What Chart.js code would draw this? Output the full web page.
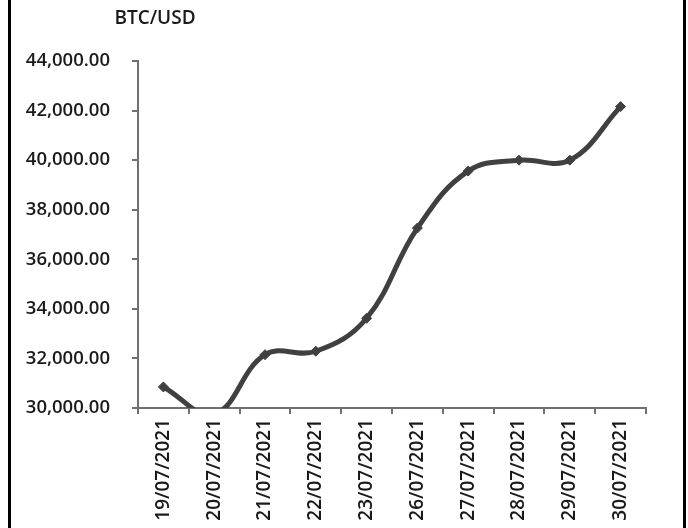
<!DOCTYPE html>
<html lang="en">
<head>
  <meta charset="UTF-8" />
  <title>BTC/USD</title>
  <script src="https://cdn.jsdelivr.net/npm/chart.js"></script>
  <style>
    body { margin: 0; background: #fff; }
    canvas { display: block; }
  </style>
</head>
<body>
  <canvas id="btcChart" width="688" height="528"></canvas>

  <script>
    const dates = ['19/07/2021', '20/07/2021', '21/07/2021', '22/07/2021', '23/07/2021',
                   '26/07/2021', '27/07/2021', '28/07/2021', '29/07/2021', '30/07/2021'];
    const prices = [30850, 29750, 32150, 32290, 33620, 37260, 39560, 40000, 40000, 42160];
    const chartTitle = 'BTC/USD';

    const FONT = "'Open Sans', 'DejaVu Sans', sans-serif";

    // white background, the black side frame and the small title
    const frame = {
      id: 'frame',
      beforeDraw(chart) {
        const c = chart.ctx;
        c.save();
        c.fillStyle = '#fff';
        c.fillRect(0, 0, chart.width, chart.height);
        c.fillStyle = '#000';
        c.fillRect(8, 0, 3, chart.height);
        c.fillRect(683, 0, 3, chart.height);
        c.restore();
      },
      afterDraw(chart) {
        const c = chart.ctx;
        c.save();
        c.font = '600 19px ' + FONT;
        c.fillStyle = '#1a1a1a';
        c.textAlign = 'center';
        c.textBaseline = 'middle';
        c.fillText(chartTitle, 155, 19);
        c.restore();
      }
    };

    new Chart(document.getElementById('btcChart'), {
      type: 'line',
      data: {
        labels: dates,
        datasets: [{
          data: prices,
          borderColor: '#404040',
          backgroundColor: '#404040',
          borderWidth: 5,
          tension: 0.4,
          pointStyle: 'rectRot',
          pointRadius: 5,
          pointBorderWidth: 1,
          clip: 0
        }]
      },
      options: {
        responsive: false,
        animation: false,
        layout: { padding: { top: 61, right: 42, left: 0, bottom: 0 } },
        plugins: {
          legend: { display: false },
          tooltip: { enabled: false }
        },
        scales: {
          x: {
            offset: true,
            grid: { offset: true, drawOnChartArea: false, tickLength: 6, color: '#707070', lineWidth: 2 },
            border: { color: '#707070', width: 2 },
            ticks: {
              minRotation: 90, maxRotation: 90, padding: 5,
              color: '#1a1a1a', font: { family: FONT, size: 19, weight: '600' }
            },
            afterFit(scale) { scale.height = 120; }
          },
          y: {
            min: 30000, max: 44000,
            grid: { drawOnChartArea: false, tickLength: 6, color: '#707070', lineWidth: 2 },
            border: { color: '#707070', width: 2 },
            ticks: {
              stepSize: 2000, padding: 22,
              color: '#1a1a1a', font: { family: FONT, size: 18.5, weight: '600' },
              callback: v => v.toLocaleString('en-US', { minimumFractionDigits: 2, maximumFractionDigits: 2 })
            },
            afterFit(scale) { scale.width = 138; }
          }
        }
      },
      plugins: [frame]
    });
  </script>
</body>
</html>
